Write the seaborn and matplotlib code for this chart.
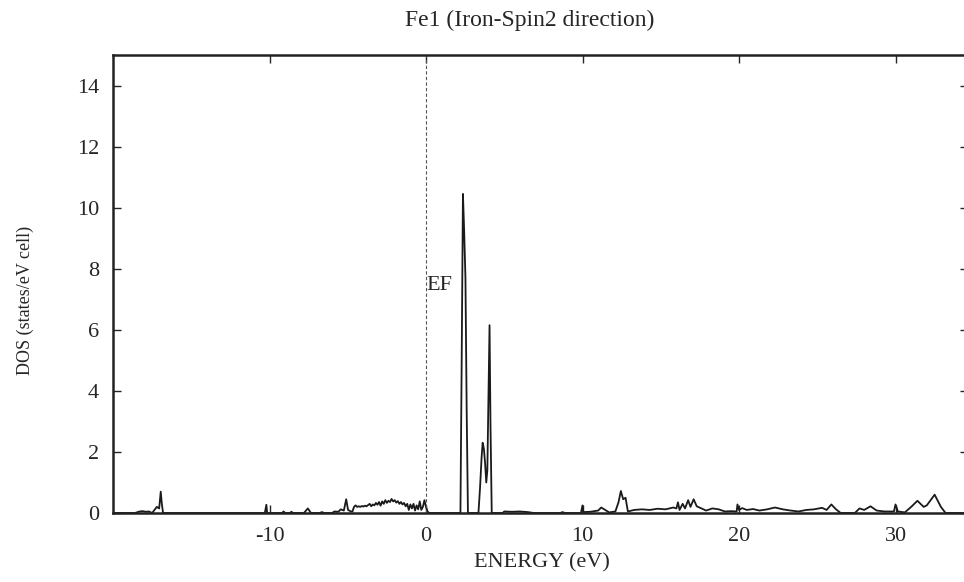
import numpy as np
import pandas as pd
import matplotlib
matplotlib.use("Agg")
import matplotlib.pyplot as plt
import seaborn as sns

sns.set_style("ticks")
plt.rcParams['font.family'] = ['Liberation Serif', 'DejaVu Serif']
plt.rcParams['axes.unicode_minus'] = False

# DOS curve (energy in eV, DOS in states/eV cell)
energy = [-20.0, -18.6, -18.3, -18.1, -17.9, -17.7, -17.5, -17.35, -17.2, -17.05, -16.95, -16.88, -16.8,
          -10.3, -10.2, -10.15, -9.2, -9.1, -9.0, -8.7, -8.6, -8.5, -7.8, -7.55, -7.35, -6.8, -6.65, -6.5,
          -6.0, -5.85, -5.6, -5.45, -5.25, -5.1, -4.98, -4.8,
          -4.7, -4.6, -4.5, -4.4, -4.3, -4.2, -4.1, -4.0, -3.9, -3.8, -3.7, -3.6, -3.5, -3.4, -3.3,
          -3.2, -3.1, -3.0, -2.9, -2.8, -2.7, -2.6, -2.5, -2.4, -2.3, -2.2, -2.1, -2.0, -1.9, -1.8,
          -1.7, -1.6, -1.5, -1.4, -1.3, -1.2, -1.1, -1.0, -0.9, -0.8, -0.7, -0.6, -0.5, -0.4, -0.3,
          -0.2, -0.1, 0.0, 0.1, 0.2,
          2.2, 2.28, 2.36, 2.44, 2.52, 2.6, 2.68,
          3.35, 3.45, 3.55, 3.62, 3.7, 3.78, 3.85, 3.92, 4.0, 4.06, 4.12, 4.2,
          4.9, 5.0, 5.5, 6.0, 6.5, 6.9, 8.6, 8.7, 8.9, 9.9, 10.0, 10.05, 10.5, 11.0, 11.2, 11.45,
          11.7, 12.1, 12.3, 12.45, 12.6, 12.75, 12.9, 13.3, 13.8, 14.3, 14.8, 15.3, 15.8, 16.0,
          16.1, 16.2, 16.4, 16.55, 16.75, 16.9, 17.1, 17.3, 17.6, 17.9, 18.3, 18.7, 19.1, 19.5,
          19.85, 19.9, 20.0, 20.2, 20.5, 20.9, 21.3, 21.8, 22.3, 22.8, 23.3, 23.8, 24.3, 24.8,
          25.3, 25.6, 25.9, 26.2, 26.5, 27.4, 27.7, 28.0, 28.4, 28.8, 29.3, 29.9, 30.0, 30.15,
          30.6, 31.0, 31.4, 31.8, 32.0, 32.5, 32.9, 33.2, 35.0]
dos = [0.0, 0.0, 0.05, 0.06, 0.04, 0.05, 0.0, 0.1, 0.2, 0.15, 0.7, 0.3, 0.0,
       0.0, 0.27, 0.0, 0.0, 0.05, 0.0, 0.0, 0.04, 0.0, 0.0, 0.15, 0.0, 0.0, 0.03, 0.0,
       0.0, 0.05, 0.04, 0.12, 0.08, 0.45, 0.1, 0.05,
       0.05, 0.2, 0.25, 0.2, 0.22, 0.2, 0.23, 0.21, 0.24, 0.22, 0.26, 0.3, 0.22, 0.28, 0.25,
       0.33, 0.27, 0.36, 0.24, 0.38, 0.3, 0.42, 0.33, 0.4, 0.36, 0.46, 0.38, 0.42, 0.34, 0.39,
       0.3, 0.36, 0.28, 0.33, 0.22, 0.3, 0.1, 0.28, 0.15, 0.3, 0.08, 0.25, 0.12, 0.38, 0.1,
       0.2, 0.42, 0.2, 0.05, 0.0,
       0.0, 5.0, 10.45, 9.2, 7.7, 3.3, 0.0,
       0.0, 0.8, 1.8, 2.3, 2.1, 1.6, 1.0, 1.4, 4.2, 6.15, 2.9, 0.0,
       0.0, 0.05, 0.04, 0.05, 0.03, 0.0, 0.0, 0.03, 0.0, 0.0, 0.25, 0.03, 0.04, 0.08, 0.18, 0.1,
       0.02, 0.05, 0.35, 0.72, 0.45, 0.5, 0.05, 0.1, 0.12, 0.1, 0.14, 0.12, 0.18, 0.15,
       0.35, 0.1, 0.3, 0.15, 0.42, 0.2, 0.45, 0.22, 0.15, 0.08, 0.15, 0.12, 0.05, 0.06,
       0.05, 0.28, 0.1, 0.16, 0.1, 0.13, 0.08, 0.12, 0.18, 0.12, 0.08, 0.05, 0.1, 0.12,
       0.17, 0.1, 0.28, 0.12, 0.0, 0.0, 0.15, 0.1, 0.22, 0.08, 0.05, 0.05, 0.28, 0.05,
       0.02, 0.2, 0.4, 0.2, 0.25, 0.6, 0.2, 0.0, 0.0]

df = pd.DataFrame({"energy": energy, "dos": dos})

fig = plt.figure(figsize=(9.64, 5.82), dpi=100)
ax = fig.add_axes([113 / 964, 69 / 582, 854.5 / 964, 458 / 582])

sns.lineplot(data=df, x="energy", y="dos", estimator=None, color="#1a1a1a", linewidth=1.3, ax=ax)

# Fermi level
ax.axvline(0, color="#555555", linestyle=(0, (3, 2)), linewidth=0.8)
ax.text(0.0, 7.45, "EF", fontsize=16, va="center", ha="left")

ax.set_xlim(-20, 34.6)
ax.set_ylim(0, 15)
ax.set_xticks([-10, 0, 10, 20, 30])
ax.set_yticks(np.arange(0, 15, 2))
ax.tick_params(direction="in", length=6, width=1, top=True, right=True, labelsize=16, pad=10)
for s in ax.spines.values():
    s.set_linewidth(1.8)
    s.set_color("#222222")

ax.set_xlabel("")
ax.set_ylabel("")
fig.text(542 / 964, 1 - 563 / 582, "ENERGY (eV)", fontsize=16, ha="center", va="center")
fig.text(25 / 964, 1 - 300 / 582, "DOS (states/eV cell)", fontsize=13, ha="center", va="center", rotation=90)
fig.text(530 / 964, 1 - 20 / 582, "Fe1 (Iron-Spin2 direction)", fontsize=17, ha="center", va="center")

fig.savefig("out.png", dpi=100)
